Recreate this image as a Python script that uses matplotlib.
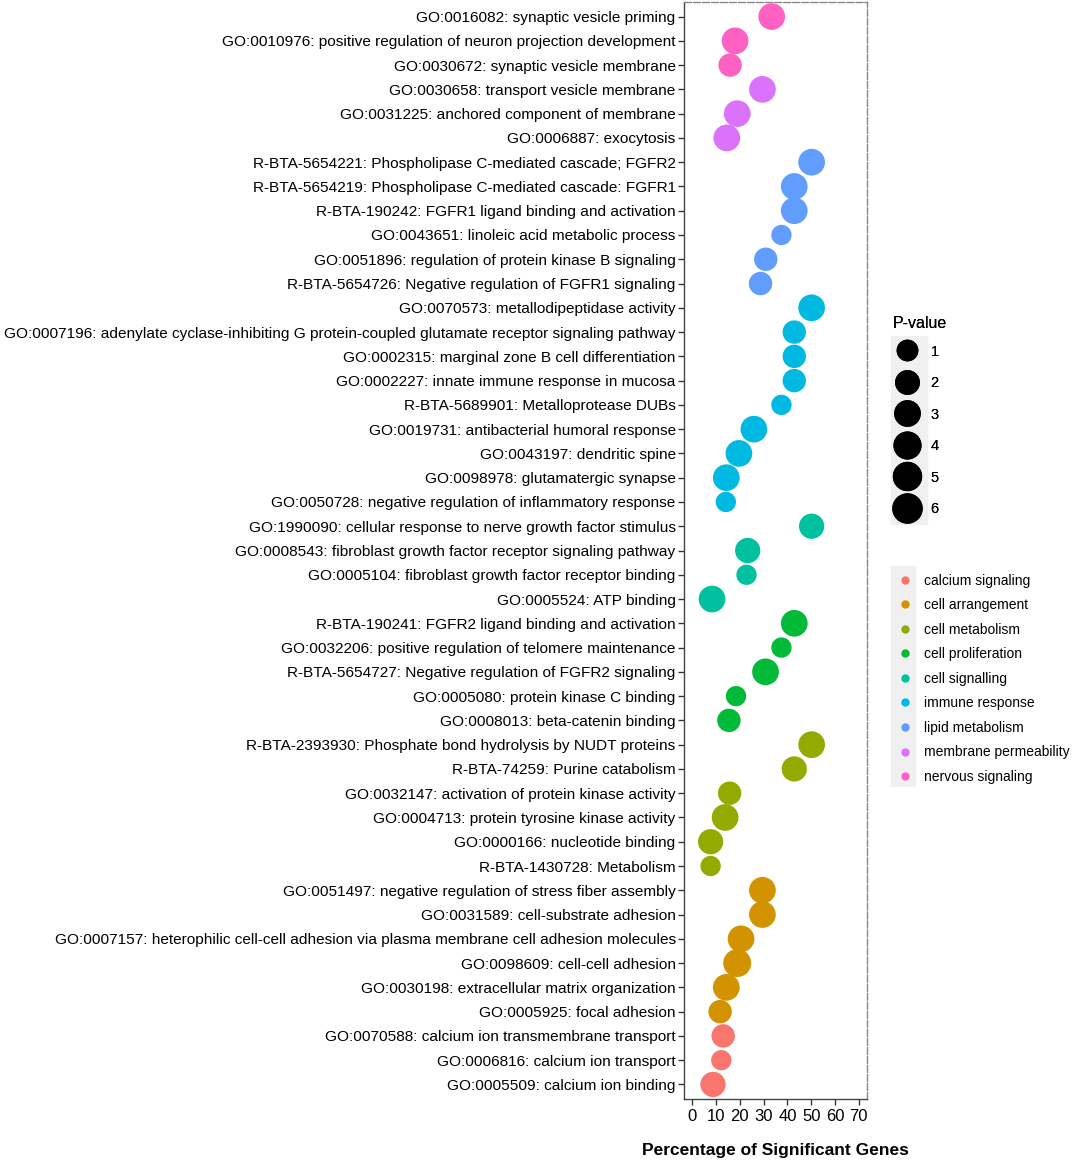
import matplotlib.pyplot as plt
from matplotlib.lines import Line2D
import numpy as np

plt.rcParams['font.family'] = ['Liberation Sans', 'DejaVu Sans']

# terms, top to bottom
terms = [
    "GO:0016082: synaptic vesicle priming",
    "GO:0010976: positive regulation of neuron projection development",
    "GO:0030672: synaptic vesicle membrane",
    "GO:0030658: transport vesicle membrane",
    "GO:0031225: anchored component of membrane",
    "GO:0006887: exocytosis",
    "R-BTA-5654221: Phospholipase C-mediated cascade; FGFR2",
    "R-BTA-5654219: Phospholipase C-mediated cascade: FGFR1",
    "R-BTA-190242: FGFR1 ligand binding and activation",
    "GO:0043651: linoleic acid metabolic process",
    "GO:0051896: regulation of protein kinase B signaling",
    "R-BTA-5654726: Negative regulation of FGFR1 signaling",
    "GO:0070573: metallodipeptidase activity",
    "GO:0007196: adenylate cyclase-inhibiting G protein-coupled glutamate receptor signaling pathway",
    "GO:0002315: marginal zone B cell differentiation",
    "GO:0002227: innate immune response in mucosa",
    "R-BTA-5689901: Metalloprotease DUBs",
    "GO:0019731: antibacterial humoral response",
    "GO:0043197: dendritic spine",
    "GO:0098978: glutamatergic synapse",
    "GO:0050728: negative regulation of inflammatory response",
    "GO:1990090: cellular response to nerve growth factor stimulus",
    "GO:0008543: fibroblast growth factor receptor signaling pathway",
    "GO:0005104: fibroblast growth factor receptor binding",
    "GO:0005524: ATP binding",
    "R-BTA-190241: FGFR2 ligand binding and activation",
    "GO:0032206: positive regulation of telomere maintenance",
    "R-BTA-5654727: Negative regulation of FGFR2 signaling",
    "GO:0005080: protein kinase C binding",
    "GO:0008013: beta-catenin binding",
    "R-BTA-2393930: Phosphate bond hydrolysis by NUDT proteins",
    "R-BTA-74259: Purine catabolism",
    "GO:0032147: activation of protein kinase activity",
    "GO:0004713: protein tyrosine kinase activity",
    "GO:0000166: nucleotide binding",
    "R-BTA-1430728: Metabolism",
    "GO:0051497: negative regulation of stress fiber assembly",
    "GO:0031589: cell-substrate adhesion",
    "GO:0007157: heterophilic cell-cell adhesion via plasma membrane cell adhesion molecules",
    "GO:0098609: cell-cell adhesion",
    "GO:0030198: extracellular matrix organization",
    "GO:0005925: focal adhesion",
    "GO:0070588: calcium ion transmembrane transport",
    "GO:0006816: calcium ion transport",
    "GO:0005509: calcium ion binding",
]

percent = [33.4, 18.0, 15.9, 29.5, 18.9, 14.5,
           50.2, 42.9, 42.9, 37.5, 30.9, 28.7,
           50.2, 42.9, 42.9, 42.9, 37.5, 25.9, 19.6, 14.3, 14.1,
           50.2, 23.3, 22.8, 8.3,
           42.9, 37.5, 30.8, 18.4, 15.4,
           50.2, 42.9, 15.7, 13.8, 7.7, 7.7,
           29.5, 29.5, 20.5, 18.9, 14.3, 11.7,
           13.0, 12.2, 8.7]

pvalue = [4, 4, 2, 4, 4, 4,
          4, 4, 4, 1, 2, 2,
          4, 2, 2, 2, 1, 4, 4, 4, 1,
          3, 3, 1, 4,
          4, 1, 4, 1, 2,
          4, 3, 2, 4, 3, 1,
          4, 4, 4, 5, 4, 2,
          2, 1, 3]

category = (["nervous signaling"] * 3 + ["membrane permeability"] * 3 +
            ["lipid metabolism"] * 6 + ["immune response"] * 9 +
            ["cell signalling"] * 4 + ["cell proliferation"] * 5 +
            ["cell metabolism"] * 6 + ["cell arrangement"] * 6 +
            ["calcium signaling"] * 3)

cat_names = ["calcium signaling", "cell arrangement", "cell metabolism",
             "cell proliferation", "cell signalling", "immune response",
             "lipid metabolism", "membrane permeability", "nervous signaling"]
cat_colors = ["#F8766D", "#D39200", "#93AA00", "#00BA38", "#00C19F",
              "#00B9E3", "#619CFF", "#DB72FB", "#FF61C3"]

pv_breaks = [1, 2, 3, 4, 5, 6]

DPI = 100


def pv_to_area(v):
    # diameter in px, sqrt-ish scaling like ggplot's scale_size
    d = 18.2 + 4.75 * np.sqrt(np.asarray(v, dtype=float) - 0.8)
    return (d * 72.0 / DPI) ** 2


fig = plt.figure(figsize=(10.72, 11.6), dpi=DPI)
ax = fig.add_axes([684 / 1072, 1 - 1099 / 1160, 183 / 1072, 1097 / 1160])

n = len(terms)
ypos = np.arange(n)[::-1]
col_map = dict(zip(cat_names, cat_colors))
colors = [col_map[c] for c in category]

ax.scatter(percent, ypos, s=pv_to_area(pvalue), c=colors, linewidths=0,
           zorder=3)

ax.set_xlim(-3.5, 73.5)
ax.set_ylim(-0.6, n - 1 + 0.6)
ax.set_xticks(range(0, 71, 10))
ax.set_yticks(ypos)
ax.set_yticklabels(terms, fontsize=11.05, color='black')
ax.tick_params(axis='x', labelsize=12, colors='#333333', labelcolor='black',
               length=4, width=1, pad=3)
ax.tick_params(axis='y', colors='#333333', labelcolor='black', length=4,
               width=1, pad=2)

for side in ['left', 'bottom']:
    ax.spines[side].set_color('#444444')
    ax.spines[side].set_linewidth(1.0)
for side in ['top', 'right']:
    ax.spines[side].set_color('#888888')
    ax.spines[side].set_linewidth(1.0)
    ax.spines[side].set_linestyle((0, (5, 1.5)))

ax.set_xlabel("Percentage of Significant Genes", fontsize=12.5,
              fontweight='bold', labelpad=14)

# size legend
size_handles = [Line2D([], [], linestyle='none', marker='o', color='black',
                       markersize=np.sqrt(pv_to_area(b)))
                for b in pv_breaks]
leg1 = fig.legend(size_handles, [str(b) for b in pv_breaks], title="P-value",
                  loc='upper left', bbox_to_anchor=(881 / 1072, 1 - 304 / 1160),
                  frameon=False, fontsize=10.5, title_fontsize=11.5,
                  labelspacing=1.2, handletextpad=0.6, borderpad=0.3,
                  alignment='left')
leg1._legend_box.sep = 10
fig.add_artist(leg1)

# colour legend
col_handles = [Line2D([], [], linestyle='none', marker='o', color=c,
                      markersize=5) for c in cat_colors]
fig.legend(col_handles, cat_names, loc='upper left',
           bbox_to_anchor=(884 / 1072, 1 - 561 / 1160), frameon=False,
           fontsize=10, labelspacing=0.76, handletextpad=0.8,
           handlelength=1.2)

# grey key backgrounds
fig.patches.append(plt.Rectangle((891 / 1072, 1 - 524 / 1160), 36 / 1072,
                                 188 / 1160, transform=fig.transFigure,
                                 color='#F0F0F0', zorder=-1))
fig.patches.append(plt.Rectangle((891 / 1072, 1 - 786 / 1160), 24 / 1072,
                                 220 / 1160, transform=fig.transFigure,
                                 color='#F0F0F0', zorder=-1))

fig.savefig("out.png", dpi=DPI)
